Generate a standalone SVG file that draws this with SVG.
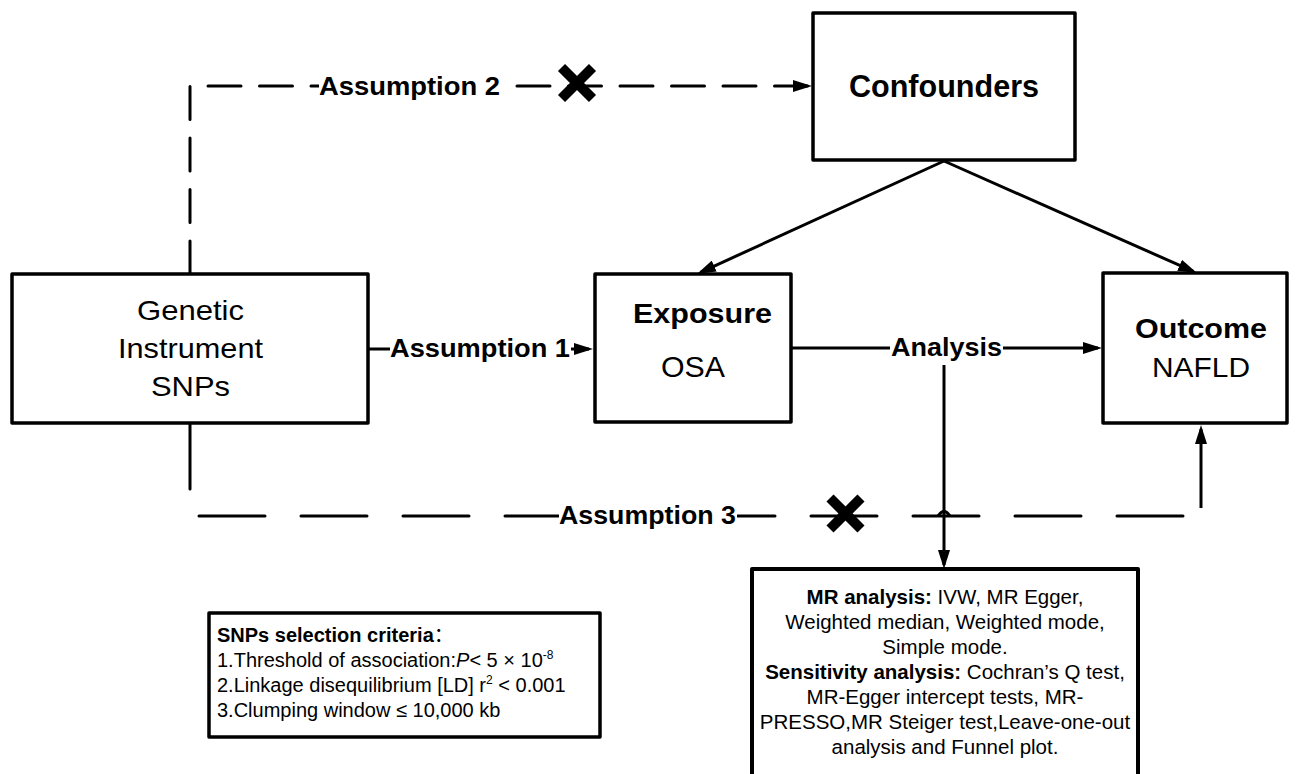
<svg xmlns="http://www.w3.org/2000/svg" width="1297" height="774" viewBox="0 0 1297 774">
<defs>
<marker id="arr" markerUnits="userSpaceOnUse" markerWidth="19" markerHeight="12" refX="15" refY="6" orient="auto">
<path d="M0,0 L19,6 L0,12 z" fill="#000"/>
</marker>
<style>
text{font-family:"Liberation Sans",Arial,Helvetica,sans-serif;fill:#000}
.box{fill:#fff;stroke:#000;stroke-width:3.5;stroke-linejoin:round}
.ln{fill:none;stroke:#000;stroke-width:3}
.d2{stroke-dasharray:33 18.5;stroke-linecap:round}
.d3{stroke-dasharray:66 36;stroke-linecap:round}
.b{font-weight:bold}
.x{stroke:#000;stroke-width:10;stroke-linecap:butt}
.bg{fill:#fff}
.c{text-anchor:middle}
</style>
</defs>
<rect width="1297" height="774" fill="#fff"/>

<g id="connectors">
<path class="ln d2" d="M190,274 V86 H808" marker-end="url(#arr)"/>
<path class="ln d3" d="M190,423 V516 H1184"/>
<path class="ln" d="M1201,508 V429" marker-end="url(#arr)"/>
<path class="ln" d="M368,349 H589" marker-end="url(#arr)"/>
<path class="ln" d="M791,348 H1098" marker-end="url(#arr)"/>
<path class="ln" d="M944,365 V565" marker-end="url(#arr)"/>
<path class="ln" d="M944,161 L700.6,272.3" marker-end="url(#arr)"/>
<path class="ln" d="M944,161 L1193.3,271.4" marker-end="url(#arr)"/>
<path class="ln" d="M938,516 Q944,507 950,516"/>
<g id="x-assumption2" transform="translate(577,83)">
<line class="x" x1="-15.5" y1="-15.5" x2="15.5" y2="15.5"/>
<line class="x" x1="15.5" y1="-15.5" x2="-15.5" y2="15.5"/>
</g>
<g id="x-assumption3" transform="translate(845.5,513.5)">
<line class="x" x1="-15.5" y1="-15.5" x2="15.5" y2="15.5"/>
<line class="x" x1="15.5" y1="-15.5" x2="-15.5" y2="15.5"/>
</g>
<g id="label-a1">
<rect class="bg" x="390" y="335" width="181" height="28"/>
<text class="b" x="390" y="357" font-size="26" textLength="180" lengthAdjust="spacingAndGlyphs">Assumption 1</text>
</g>
<g id="label-a2">
<rect class="bg" x="319" y="72" width="182" height="28"/>
<text class="b" x="319" y="95" font-size="26.5" textLength="181" lengthAdjust="spacingAndGlyphs">Assumption 2</text>
</g>
<g id="label-a3">
<rect class="bg" x="559" y="502" width="178" height="28"/>
<text class="b" x="559" y="524" font-size="26" textLength="177" lengthAdjust="spacingAndGlyphs">Assumption 3</text>
</g>
<g id="label-analysis">
<rect class="bg" x="890" y="334" width="113" height="28"/>
<text class="b" x="891" y="356" font-size="25" textLength="111" lengthAdjust="spacingAndGlyphs">Analysis</text>
</g>
</g>

<g id="genetic">
<rect class="box" x="12" y="274" width="356" height="149"/>
<text class="c" x="190.5" y="320" font-size="28" textLength="107" lengthAdjust="spacingAndGlyphs">Genetic</text>
<text class="c" x="190.5" y="358" font-size="28" textLength="145" lengthAdjust="spacingAndGlyphs">Instrument</text>
<text class="c" x="190.5" y="396" font-size="28" textLength="79" lengthAdjust="spacingAndGlyphs">SNPs</text>
</g>

<g id="confounders">
<rect class="box" x="813" y="13" width="262" height="147"/>
<text class="b c" x="944" y="97" font-size="31" textLength="190" lengthAdjust="spacingAndGlyphs">Confounders</text>
</g>

<g id="exposure">
<rect class="box" x="595" y="274" width="196" height="148"/>
<text class="b c" x="702.5" y="323" font-size="28" textLength="139" lengthAdjust="spacingAndGlyphs">Exposure</text>
<text class="c" x="693" y="377" font-size="29" textLength="64" lengthAdjust="spacingAndGlyphs">OSA</text>
</g>

<g id="outcome">
<rect class="box" x="1103" y="273" width="184" height="150"/>
<text class="b c" x="1201" y="338" font-size="28" textLength="132" lengthAdjust="spacingAndGlyphs">Outcome</text>
<text class="c" x="1201" y="377" font-size="28" textLength="98" lengthAdjust="spacingAndGlyphs">NAFLD</text>
</g>

<g id="snps-criteria">
<rect class="box" x="209" y="613" width="391" height="124"/>
<text x="217" y="642" font-size="20"><tspan class="b">SNPs selection criteria</tspan><tspan font-family="'Noto Sans CJK SC',sans-serif">：</tspan></text>
<text x="217" y="667" font-size="20">1.Threshold of association:<tspan font-style="italic">P</tspan>&lt; 5 × 10<tspan font-size="12" dy="-8">-8</tspan></text>
<text x="217" y="692" font-size="20">2.Linkage disequilibrium [LD] r<tspan font-size="12" dy="-8">2</tspan><tspan dy="8"> &lt; 0.001</tspan></text>
<text x="217" y="717" font-size="20">3.Clumping window ≤ 10,000 kb</text>
</g>

<g id="mr-analysis">
<rect class="box" x="752" y="569" width="386" height="210" style="stroke-width:4"/>
<text class="c" x="945" y="604" font-size="20.5"><tspan class="b">MR analysis:</tspan> IVW, MR Egger,</text>
<text class="c" x="945" y="629" font-size="20.5">Weighted median, Weighted mode,</text>
<text class="c" x="945" y="654" font-size="20.5">Simple mode.</text>
<text class="c" x="945" y="679" font-size="20.5"><tspan class="b">Sensitivity analysis:</tspan> Cochran’s Q test,</text>
<text class="c" x="945" y="704" font-size="20.5">MR-Egger intercept tests, MR-</text>
<text class="c" x="945" y="729" font-size="20.5">PRESSO,MR Steiger test,Leave-one-out</text>
<text class="c" x="945" y="754" font-size="20.5">analysis and Funnel plot.</text>
</g>
</svg>
